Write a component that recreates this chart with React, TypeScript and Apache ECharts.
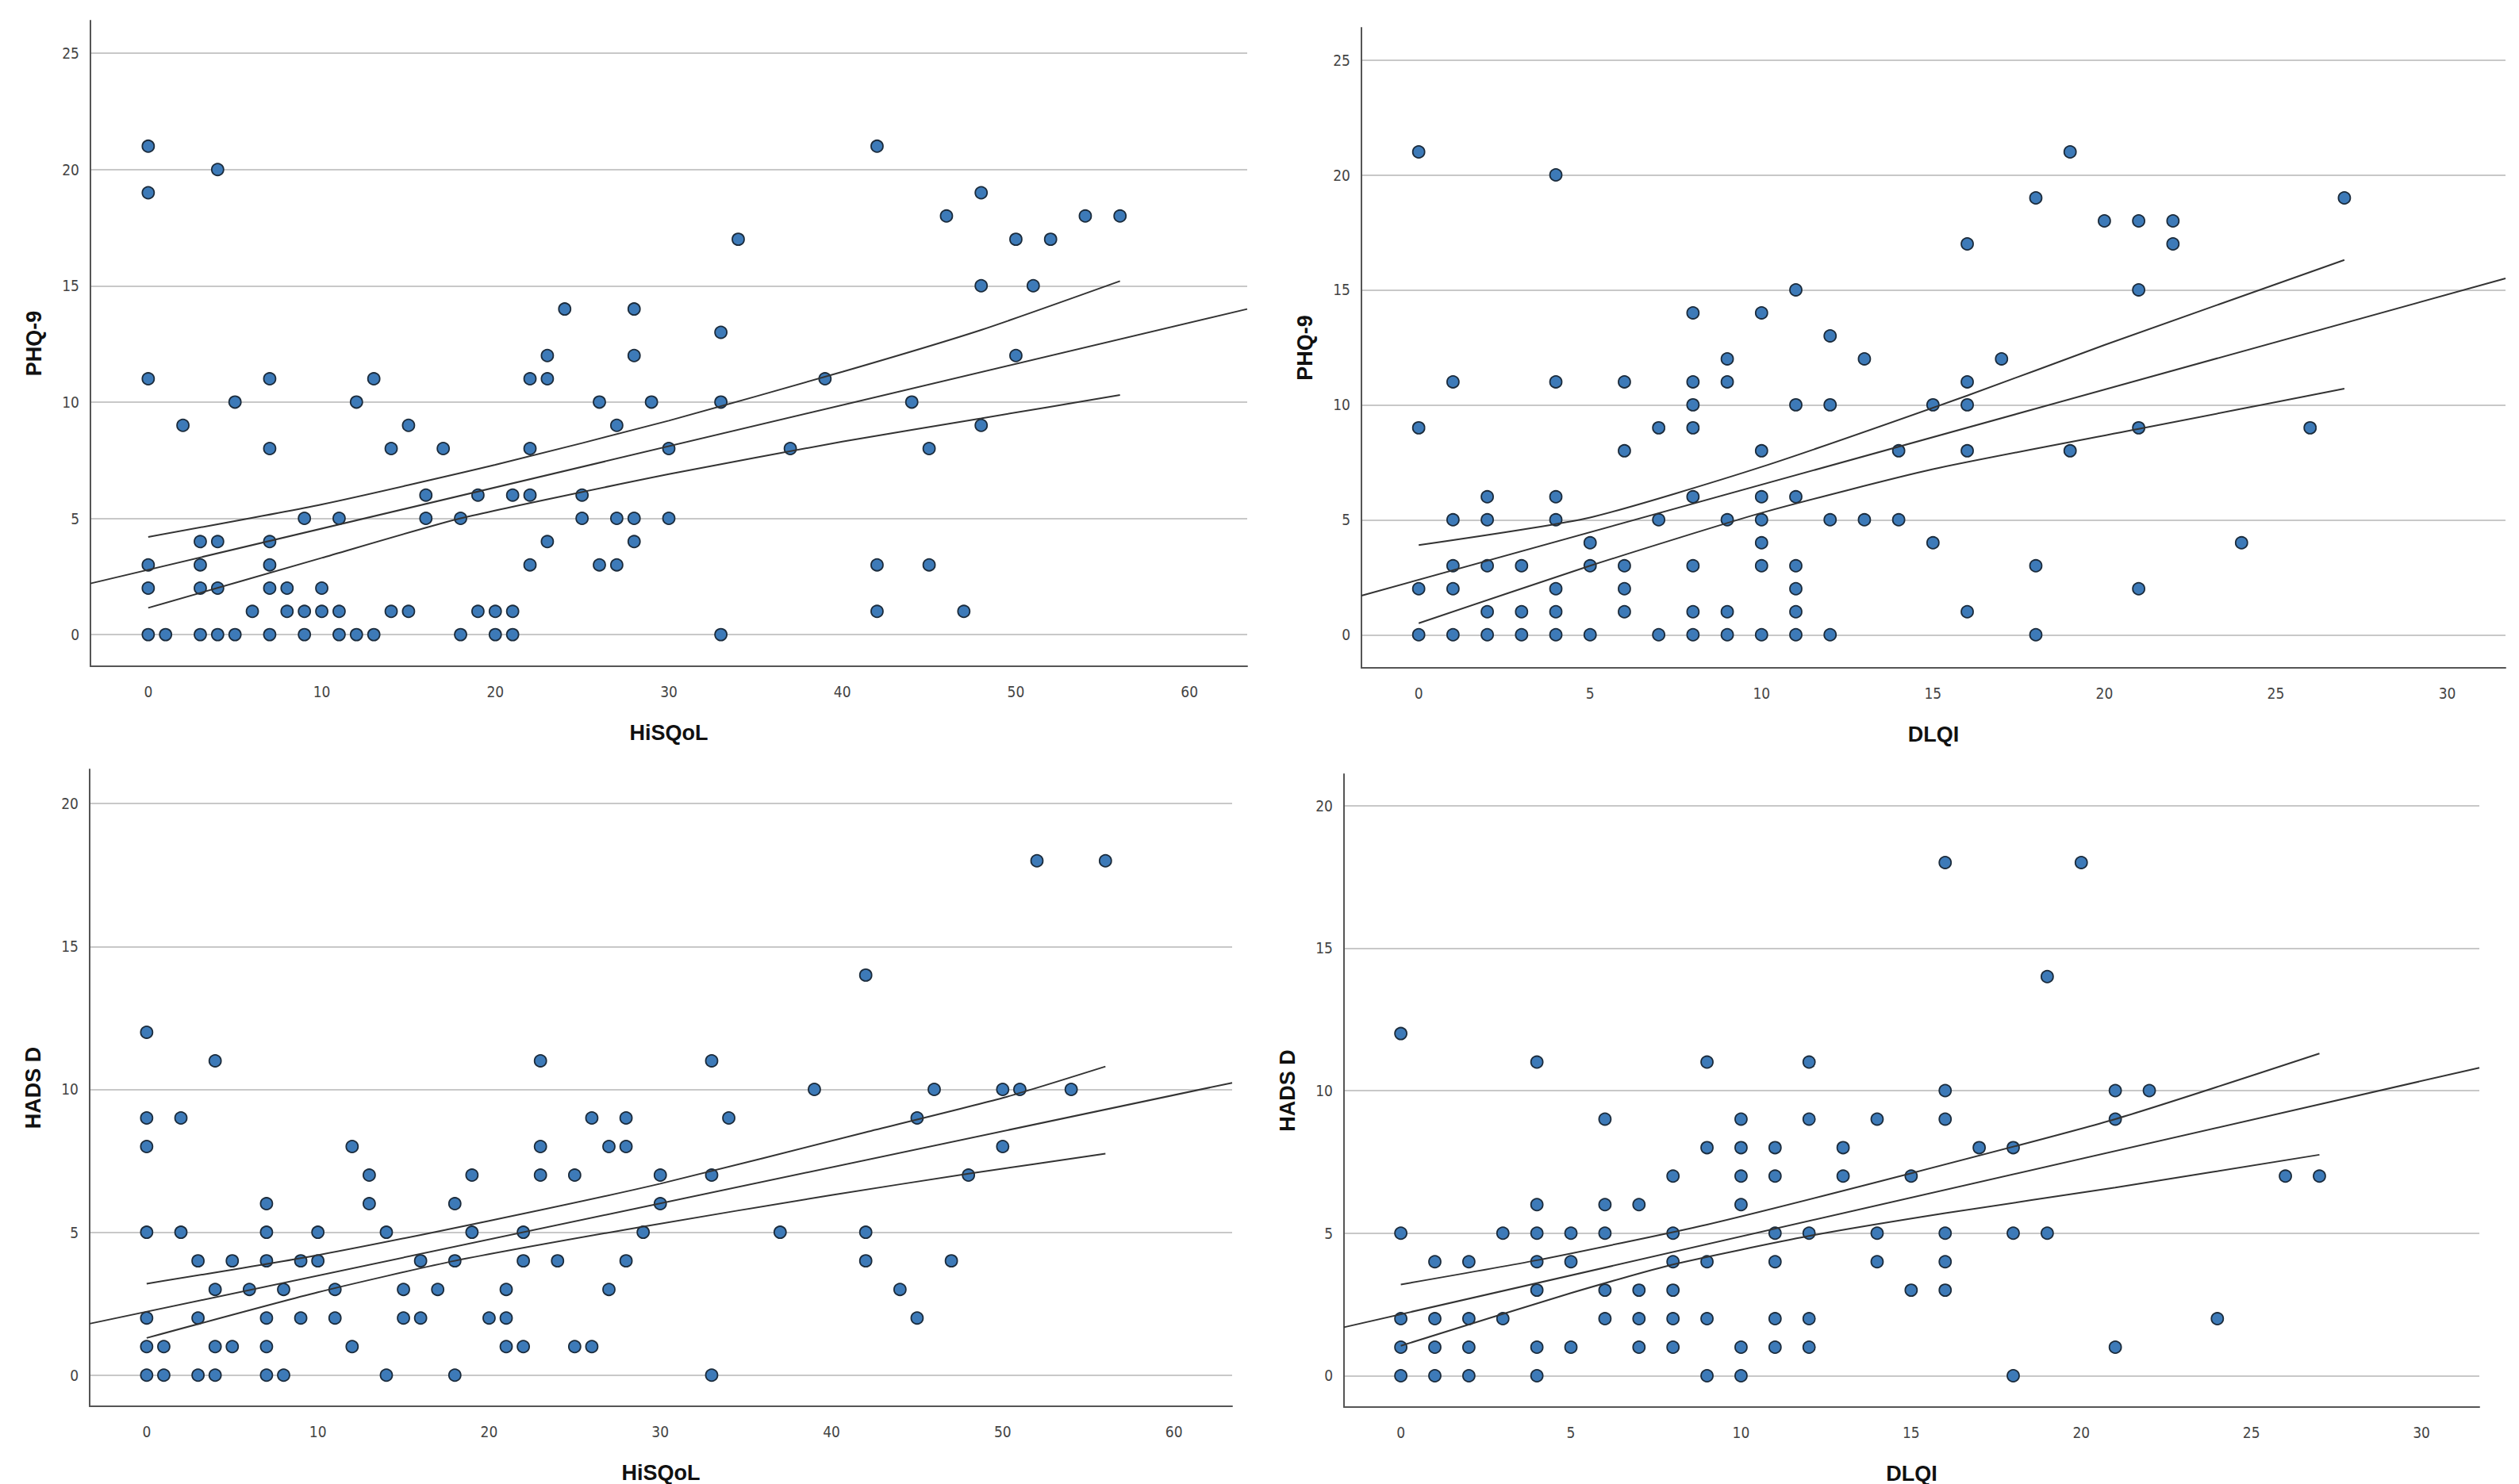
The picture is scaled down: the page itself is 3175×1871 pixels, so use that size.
import React, { useEffect, useRef } from "react";
import * as echarts from "echarts";

// Panel 1: HiSQoL vs PHQ-9
const p1Points: number[][] = [[0,21],[0,19],[0,11],[0,3],[0,2],[0,0],[1,0],[2,9],[3,4],[3,3],[3,2],[3,0],[4,20],[4,4],[4,2],[4,0],[5,10],[5,0],[6,1],[7,11],[7,8],[7,4],[7,3],[7,2],[7,0],[8,2],[8,1],[9,5],[9,1],[9,0],[10,2],[10,1],[11,5],[11,1],[11,0],[12,10],[12,0],[13,11],[13,0],[14,8],[14,1],[15,9],[15,1],[16,6],[16,5],[17,8],[18,5],[18,0],[19,6],[19,1],[20,1],[20,0],[21,6],[21,1],[21,0],[22,11],[22,8],[22,6],[22,3],[23,12],[23,11],[23,4],[24,14],[25,6],[25,5],[26,10],[26,3],[27,9],[27,5],[27,3],[28,14],[28,12],[28,5],[28,4],[29,10],[30,8],[30,5],[33,13],[33,10],[33,0],[34,17],[37,8],[39,11],[42,21],[42,3],[42,1],[44,10],[45,8],[45,3],[46,18],[47,1],[48,19],[48,15],[48,9],[50,17],[50,12],[51,15],[52,17],[54,18],[56,18]];
const p1Fit: number[][] = [[-3.33,2.2],[63.33,14.0]];
const p1Upper: number[][] = [[0,4.2],[10,5.6],[20,7.3],[30,9.2],[40,11.3],[48,13.1],[56,15.2]];
const p1Lower: number[][] = [[0,1.15],[10,3.3],[18,5.0],[30,6.9],[40,8.3],[48,9.3],[56,10.3]];

// Panel 2: DLQI vs PHQ-9
const p2Points: number[][] = [[0,21],[0,9],[0,2],[0,0],[1,11],[1,5],[1,3],[1,2],[1,0],[2,6],[2,5],[2,3],[2,1],[2,0],[3,3],[3,1],[3,0],[4,20],[4,11],[4,6],[4,5],[4,2],[4,1],[4,0],[5,4],[5,3],[5,0],[6,11],[6,8],[6,3],[6,2],[6,1],[7,9],[7,5],[7,0],[8,14],[8,11],[8,10],[8,9],[8,6],[8,3],[8,1],[8,0],[9,12],[9,11],[9,5],[9,1],[9,0],[10,14],[10,8],[10,6],[10,5],[10,4],[10,3],[10,0],[11,15],[11,10],[11,6],[11,3],[11,2],[11,1],[11,0],[12,13],[12,10],[12,5],[12,0],[13,12],[13,5],[14,8],[14,5],[15,10],[15,4],[16,17],[16,11],[16,10],[16,8],[16,1],[17,12],[18,19],[18,3],[18,0],[19,21],[19,8],[20,18],[21,18],[21,15],[21,9],[21,2],[22,18],[22,17],[24,4],[26,9],[27,19]];
const p2Fit: number[][] = [[-1.67,1.7],[31.7,15.5]];
const p2Upper: number[][] = [[0,3.9],[5,5.1],[10,7.3],[16,10.4],[20,12.6],[27,16.3]];
const p2Lower: number[][] = [[0,0.5],[5,3.0],[10,5.3],[15,7.2],[21,8.95],[27,10.7]];

// Panel 3: HiSQoL vs HADS D
const p3Points: number[][] = [[0,12],[0,9],[0,8],[0,5],[0,2],[0,1],[0,0],[1,1],[1,0],[2,9],[2,5],[3,4],[3,2],[3,0],[4,11],[4,3],[4,1],[4,0],[5,4],[5,1],[6,3],[7,6],[7,5],[7,4],[7,2],[7,1],[7,0],[8,3],[8,0],[9,4],[9,2],[10,5],[10,4],[11,3],[11,2],[12,8],[12,1],[13,7],[13,6],[14,5],[14,0],[15,3],[15,2],[16,4],[16,2],[17,3],[18,6],[18,4],[18,0],[19,7],[19,5],[20,2],[21,3],[21,2],[21,1],[22,5],[22,4],[22,1],[23,11],[23,8],[23,7],[24,4],[25,7],[25,1],[26,9],[26,1],[27,8],[27,3],[28,9],[28,8],[28,4],[29,5],[30,7],[30,6],[33,11],[33,7],[33,0],[34,9],[37,5],[39,10],[42,14],[42,5],[42,4],[44,3],[45,9],[45,2],[46,10],[47,4],[48,7],[50,10],[50,8],[51,10],[52,18],[54,10],[56,18]];
const p3Fit: number[][] = [[-3.33,1.8],[63.4,10.23]];
const p3Upper: number[][] = [[0,3.2],[10,4.2],[20,5.4],[30,6.7],[42,8.5],[50,9.7],[56,10.8]];
const p3Lower: number[][] = [[0,1.3],[10,2.9],[18,4.0],[29,5.2],[40,6.3],[48,7.05],[56,7.75]];

// Panel 4: DLQI vs HADS D
const p4Points: number[][] = [[0,12],[0,5],[0,2],[0,1],[0,0],[1,4],[1,2],[1,1],[1,0],[2,4],[2,2],[2,1],[2,0],[3,5],[3,2],[4,11],[4,6],[4,5],[4,4],[4,3],[4,1],[4,0],[5,5],[5,4],[5,1],[6,9],[6,6],[6,5],[6,3],[6,2],[7,6],[7,3],[7,2],[7,1],[8,7],[8,5],[8,4],[8,3],[8,2],[8,1],[9,11],[9,8],[9,4],[9,2],[9,0],[10,9],[10,8],[10,7],[10,6],[10,1],[10,0],[11,8],[11,7],[11,5],[11,4],[11,2],[11,1],[12,11],[12,9],[12,5],[12,2],[12,1],[13,8],[13,7],[14,9],[14,5],[14,4],[15,7],[15,3],[16,18],[16,10],[16,9],[16,5],[16,4],[16,3],[17,8],[18,8],[18,5],[18,0],[19,14],[19,5],[20,18],[21,10],[21,9],[21,1],[22,10],[24,2],[26,7],[27,7]];
const p4Fit: number[][] = [[-1.67,1.7],[31.7,10.8]];
const p4Upper: number[][] = [[0,3.2],[4,4.05],[9,5.3],[15,7.1],[21,9.0],[27,11.3]];
const p4Lower: number[][] = [[0,1.05],[5,2.9],[8,3.9],[12,4.9],[16,5.7],[21,6.6],[27,7.75]];

const xTicksHi = [0, 10, 20, 30, 40, 50, 60];
const xTicksDl = [0, 5, 10, 15, 20, 25, 30];
const yTicksPhq = [0, 5, 10, 15, 20, 25];
const yTicksHads = [0, 5, 10, 15, 20];

const panels = [
  { pts: p1Points, fit: p1Fit, up: p1Upper, lo: p1Lower, xName: "HiSQoL", yName: "PHQ-9", xMin: -3.33, xMax: 63.33, yMin: -1.36, yMax: 26.4, xT: xTicksHi, yT: yTicksPhq, grid: { left: 106, top: 18, width: 1458, height: 814 } },
  { pts: p2Points, fit: p2Fit, up: p2Upper, lo: p2Lower, xName: "DLQI", yName: "PHQ-9", xMin: -1.67, xMax: 31.7, yMin: -1.44, yMax: 26.4, xT: xTicksDl, yT: yTicksPhq, grid: { left: 1708, top: 27, width: 1442, height: 807 } },
  { pts: p3Points, fit: p3Fit, up: p3Upper, lo: p3Lower, xName: "HiSQoL", yName: "HADS D", xMin: -3.33, xMax: 63.4, yMin: -1.09, yMax: 21.2, xT: xTicksHi, yT: yTicksHads, grid: { left: 105, top: 962, width: 1440, height: 803 } },
  { pts: p4Points, fit: p4Fit, up: p4Upper, lo: p4Lower, xName: "DLQI", yName: "HADS D", xMin: -1.67, xMax: 31.7, yMin: -1.1, yMax: 21.1, xT: xTicksDl, yT: yTicksHads, grid: { left: 1686, top: 968, width: 1431, height: 798 } },
];

export default function App() {
  const ref = useRef<HTMLDivElement>(null);
  useEffect(() => {
    const chart = echarts.init(ref.current!, undefined, { renderer: "svg" });
    const nameStyle = { fontFamily: "Liberation Sans", fontWeight: "bold" as const, fontSize: 27, color: "#111" };
    const labelStyle = { fontFamily: "DejaVu Sans Condensed", fontSize: 19, color: "#444" };
    const axisLine = { show: true, onZero: false, lineStyle: { color: "#555", width: 2 } };
    const series: any[] = [];
    panels.forEach((p, i) => {
      series.push({
        type: "scatter", xAxisIndex: i, yAxisIndex: i, data: p.pts, symbolSize: 15,
        itemStyle: { color: "#3d7ab8", borderColor: "#1b2b3b", borderWidth: 1.8, opacity: 1 },
        markLine: { silent: true, symbol: "none", label: { show: false }, lineStyle: { color: "#c8c8c8", width: 2, type: "solid" }, data: p.yT.map((v) => ({ yAxis: v })), z: 0 },
        z: 3,
      });
      [p.fit, p.up, p.lo].forEach((d, k) => series.push({
        type: "line", xAxisIndex: i, yAxisIndex: i, data: d, showSymbol: false, smooth: k > 0 ? 0.2 : false,
        lineStyle: { color: "#333", width: 2 }, z: 4,
      }));
    });
    chart.setOption({
      animation: false,
      backgroundColor: "#fff",
      grid: panels.map((p) => ({ ...p.grid, containLabel: false })),
      xAxis: panels.map((p, i) => ({
        type: "value", gridIndex: i, min: p.xMin, max: p.xMax, name: p.xName, nameLocation: "middle", nameGap: 70, nameTextStyle: nameStyle,
        axisLine, axisTick: { show: false }, splitLine: { show: false },
        axisLabel: { ...labelStyle, margin: 22, customValues: p.xT, formatter: (v: number) => String(v) },
      })),
      yAxis: panels.map((p, i) => ({
        type: "value", gridIndex: i, min: p.yMin, max: p.yMax, name: p.yName, nameLocation: "middle", nameGap: 58, nameTextStyle: nameStyle,
        axisLine, axisTick: { show: false }, splitLine: { show: false },
        axisLabel: { ...labelStyle, margin: 14, customValues: p.yT, formatter: (v: number) => String(v) },
      })),
      series,
    });
    return () => chart.dispose();
  }, []);
  return <div ref={ref} style={{ width: 3175, height: 1871 }} />;
}
